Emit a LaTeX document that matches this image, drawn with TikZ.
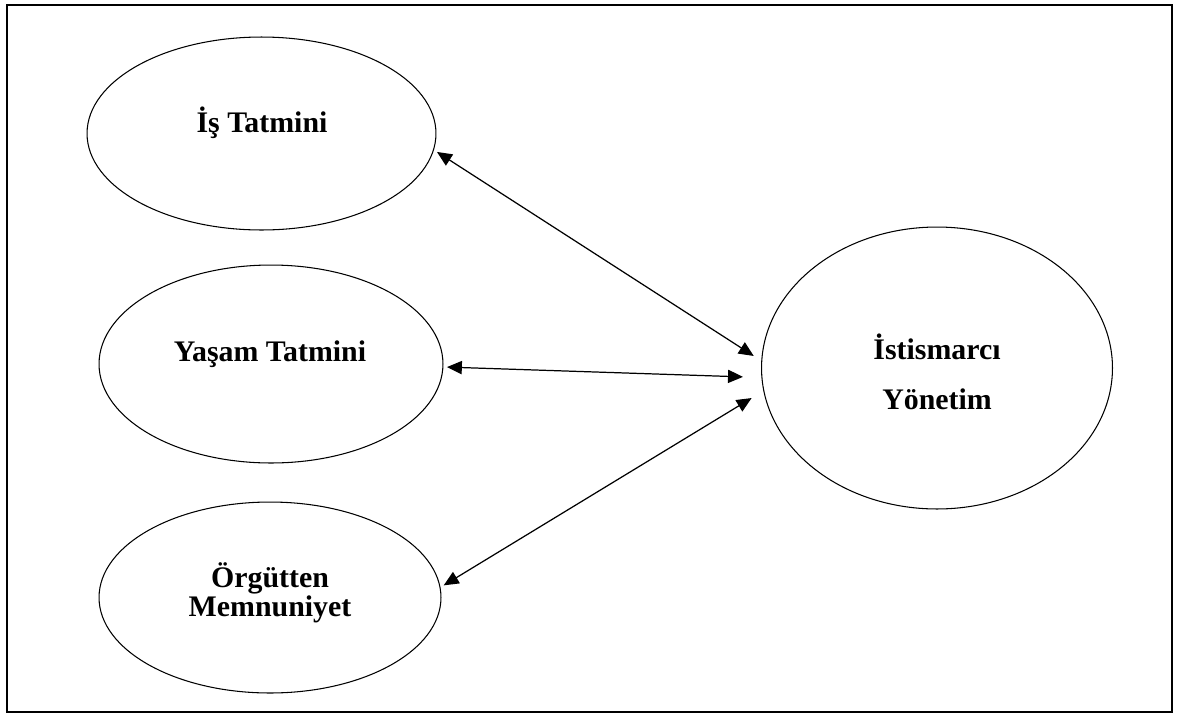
\documentclass[tikz,border=0pt]{standalone}
\usepackage{fontspec}
\newfontfamily\tnr{Liberation Serif}
\usetikzlibrary{arrows.meta,shapes.geometric}
\begin{document}
\begin{tikzpicture}[x=0.02cm, y=-0.02cm,
  oval/.style={draw, ellipse, line width=0.6pt, inner sep=0pt, outer sep=2.3pt},
  lbl/.style={font=\tnr\fontsize{17}{16.2}\selectfont\bfseries, align=center, inner sep=0pt},
  link/.style={<->, >={Triangle[length=8.5pt,width=7.5pt]}, line width=0.7pt}]
\useasboundingbox (0,0) rectangle (1179,714);
\draw[line width=1.6pt] (7,5) rectangle (1172,712);
\node[oval, minimum width=6.98cm, minimum height=3.86cm] (is) at (261.5,133.5) {};
\node[oval, minimum width=6.88cm, minimum height=3.96cm] (yasam) at (271,364) {};
\node[oval, minimum width=6.84cm, minimum height=3.82cm] (orgut) at (270,597.5) {};
\node[oval, minimum width=7.02cm, minimum height=5.64cm] (istismar) at (937,368) {};
\node[lbl, anchor=base] (isT) at (262,132) {İş Tatmini};
\node[lbl, anchor=base] (yasamT) at (270,361) {Yaşam Tatmini};
\node[lbl] (orgutT) at (270,593) {Örgütten\\Memnuniyet};
\node[lbl] (istismarT) at (937,372) {İstismarcı\\[12pt]Yönetim};
\draw[link, shorten >=2.8pt] (is.-6.3) -- (istismar.177.5);
\draw[link, shorten >=8.5pt] (yasam.-1.3) -- (istismar.183);
\draw[link, shorten >=5.7pt] (orgut.4.8) -- (istismar.188.2);
\end{tikzpicture}
\end{document}
